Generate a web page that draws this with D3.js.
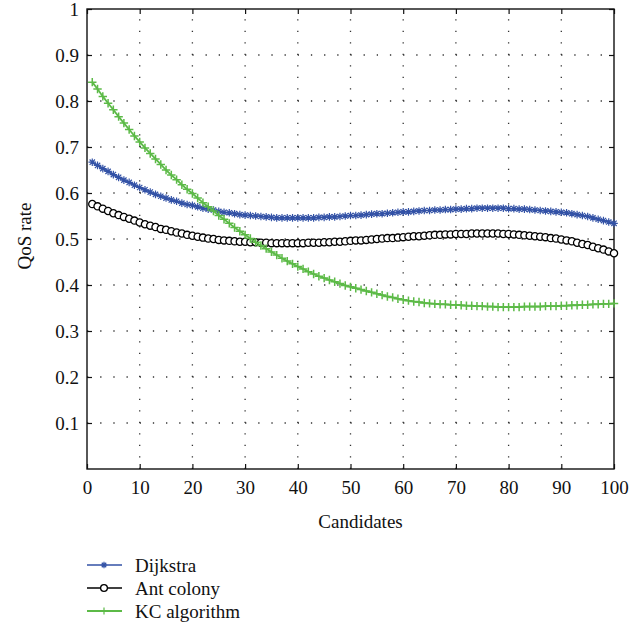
<!DOCTYPE html>
<html>
<head>
<meta charset="utf-8">
<script src="https://cdn.jsdelivr.net/npm/d3@7"></script>
<style>
body{margin:0;background:#fff;}
text{font-family:"Liberation Serif","Times New Roman",serif;fill:#111;}
</style>
</head>
<body>
<svg class="chart"></svg>
<script>

var candidates = d3.range(1, 101);

var dijkstra = [
 .667,.660,.653,.647,.640,.634,.628,.623,.617,.612,
 .607,.602,.597,.593,.589,.585,.582,.578,.575,.573,
 .570,.567,.565,.563,.560,.558,.557,.555,.553,.552,
 .551,.550,.549,.548,.547,.546,.546,.546,.546,.546,
 .546,.546,.546,.547,.547,.548,.548,.549,.550,.551,
 .551,.552,.553,.554,.555,.555,.556,.557,.558,.559,
 .559,.560,.561,.562,.562,.563,.563,.564,.564,.565,
 .565,.566,.566,.567,.567,.567,.567,.567,.567,.566,
 .566,.565,.565,.564,.563,.562,.561,.560,.559,.558,
 .557,.555,.553,.551,.549,.546,.543,.540,.537,.534];

var antColony = [
 .576,.571,.566,.561,.556,.552,.548,.544,.540,.536,
 .532,.529,.526,.522,.520,.517,.514,.512,.509,.507,
 .505,.503,.501,.500,.498,.497,.496,.495,.494,.494,
 .493,.493,.492,.492,.491,.491,.491,.491,.491,.491,
 .491,.492,.492,.492,.493,.493,.494,.494,.495,.496,
 .497,.497,.498,.499,.500,.501,.502,.502,.503,.504,
 .505,.506,.506,.507,.508,.509,.509,.510,.510,.511,
 .511,.511,.512,.512,.512,.512,.512,.512,.511,.511,
 .510,.509,.508,.507,.506,.505,.504,.502,.501,.499,
 .497,.495,.492,.489,.487,.483,.480,.477,.473,.469];

var kcAlgorithm = [
 .841,.826,.810,.795,.781,.766,.752,.738,.724,.711,
 .698,.686,.674,.662,.650,.639,.629,.618,.608,.599,
 .589,.579,.570,.561,.551,.543,.534,.525,.517,.509,
 .501,.493,.486,.479,.472,.465,.458,.452,.446,.440,
 .435,.429,.424,.419,.415,.411,.407,.403,.399,.396,
 .393,.390,.387,.384,.381,.378,.375,.373,.370,.368,
 .366,.364,.363,.361,.360,.359,.358,.358,.357,.357,
 .356,.355,.355,.354,.354,.353,.353,.352,.352,.352,
 .352,.352,.353,.353,.353,.353,.354,.354,.354,.355,
 .355,.356,.356,.357,.357,.358,.358,.359,.359,.360];

var seriesNames = ["Dijkstra", "Ant colony", "KC algorithm"];
var xTicks = [0,10,20,30,40,50,60,70,80,90,100];
var yTicks = [0.1,0.2,0.3,0.4,0.5,0.6,0.7,0.8,0.9,1];

var W = 643, H = 635;
var pL = 87, pR = 614, pT = 9, pB = 469;   // plot box

var svg = d3.select(".chart").attr("width", W).attr("height", H);

var x = d3.scaleLinear().domain([0,100]).range([pL,pR]);
var y = d3.scaleLinear().domain([0,1]).range([pB,pT]);

// dotted grid
var grid = svg.append("g").attr("stroke","#333").attr("stroke-width",1.3);
grid.selectAll(".gx").data(xTicks.slice(1,-1)).enter().append("line")
    .attr("x1",function(d){return x(d);}).attr("x2",function(d){return x(d);})
    .attr("y1",pB).attr("y2",pT)
    .attr("stroke-dasharray","1.3,10.2");
grid.selectAll(".gy").data(yTicks.slice(0,-1)).enter().append("line")
    .attr("y1",function(d){return y(d);}).attr("y2",function(d){return y(d);})
    .attr("x1",pL).attr("x2",pR)
    .attr("stroke-dasharray","1.3,11.87");

// axes, ticks inside on all four sides
var ax = d3.axisBottom(x).tickValues(xTicks).tickSizeInner(-5).tickSizeOuter(0).tickPadding(12);
var ay = d3.axisLeft(y).tickValues(yTicks).tickSizeInner(-5).tickSizeOuter(0).tickPadding(8)
    .tickFormat(function(d){return d===1?"1":d3.format(".1f")(d);});

svg.append("g").attr("transform","translate(0,"+pB+")").call(ax);
svg.append("g").attr("transform","translate("+pL+",0)").call(ay);
svg.append("g").attr("transform","translate(0,"+pT+")")
    .call(d3.axisTop(x).tickValues(xTicks).tickSizeInner(-5).tickSizeOuter(0).tickFormat(""));
svg.append("g").attr("transform","translate("+pR+",0)")
    .call(d3.axisRight(y).tickValues(yTicks).tickSizeInner(-5).tickSizeOuter(0).tickFormat(""));

svg.selectAll(".domain").remove();
svg.selectAll(".tick line").attr("stroke","#111").attr("stroke-width",1.2);
svg.selectAll(".tick text").attr("font-family","Liberation Serif, serif").attr("font-size",19).attr("fill","#111");

svg.append("rect").attr("x",pL).attr("y",pT).attr("width",pR-pL).attr("height",pB-pT)
    .attr("fill","none").attr("stroke","#111").attr("stroke-width",1.4);

svg.append("text").attr("x",(pL+pR)/2+10).attr("y",528).attr("text-anchor","middle")
    .attr("font-size",19).text("Candidates");
svg.append("text").attr("transform","translate(31,236) rotate(-90)").attr("text-anchor","middle")
    .attr("font-size",19).text("QoS rate");

// markers
function star(g, r){
  g.append("path").attr("d","M"+(-r)+",0H"+r+"M0,"+(-r)+"V"+r+
     "M"+(-r*.7)+","+(-r*.7)+"L"+(r*.7)+","+(r*.7)+"M"+(-r*.7)+","+(r*.7)+"L"+(r*.7)+","+(-r*.7));
}
function plus(g, r){
  g.append("path").attr("d","M"+(-r)+",0H"+r+"M0,"+(-r)+"V"+r);
}

var series = [
  {name:seriesNames[0], values:dijkstra, color:"#3352a6", lw:1.5, mark:"star"},
  {name:seriesNames[1], values:antColony, color:"#000", lw:1.3, mark:"circle"},
  {name:seriesNames[2], values:kcAlgorithm, color:"#5cba47", lw:1.8, mark:"plus"}
];

var line = d3.line().x(function(d,i){return x(candidates[i]);}).y(function(d){return y(d);});

series.forEach(function(s){
  var g = svg.append("g");
  g.append("path").datum(s.values).attr("d",line).attr("fill","none")
    .attr("stroke",s.color).attr("stroke-width",s.lw);
  var m = g.selectAll("g").data(s.values).enter().append("g")
    .attr("transform",function(d,i){return "translate("+x(candidates[i])+","+y(d)+")";});
  if(s.mark=="circle"){
    m.append("circle").attr("r",3.6).attr("fill","#fff").attr("stroke","#000").attr("stroke-width",1.3);
  } else {
    m.each(function(){
      var gg = d3.select(this).attr("stroke",s.color).attr("stroke-width",s.mark=="star"?1.2:1.5).attr("fill","none");
      if(s.mark=="star") star(gg,3.8); else plus(gg,4.2);
    });
  }
});

// legend
var leg = svg.append("g");
series.forEach(function(s,i){
  var yy = 565 + i*23;
  var g = leg.append("g").attr("transform","translate(0,"+yy+")");
  g.append("line").attr("x1",87).attr("x2",122).attr("y1",0).attr("y2",0)
    .attr("stroke",s.color).attr("stroke-width",s.lw);
  var mk = g.append("g").attr("transform","translate(104,0)");
  if(s.mark=="circle"){
    mk.append("circle").attr("r",3.4).attr("fill","#fff").attr("stroke","#000").attr("stroke-width",1.3);
  } else {
    mk.attr("stroke",s.color).attr("stroke-width",1.2).attr("fill","none");
    if(s.mark=="star") star(mk,3.2); else plus(mk,3.6);
  }
  g.append("text").attr("x",135).attr("y",0).attr("dy","0.35em").attr("font-size",19).text(s.name);
});

</script>
</body>
</html>
